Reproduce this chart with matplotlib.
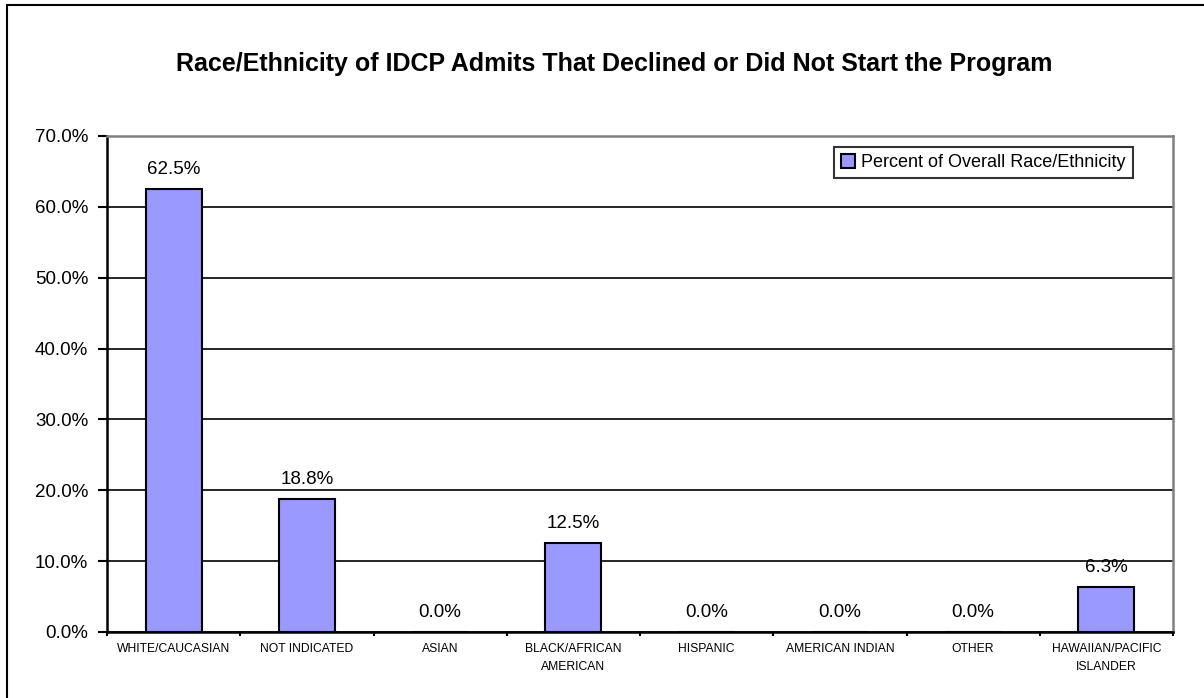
import matplotlib.pyplot as plt
from matplotlib.patches import Rectangle
from matplotlib.ticker import FuncFormatter, MultipleLocator

plt.rcParams['font.family'] = ['Liberation Sans', 'DejaVu Sans']

categories = ['WHITE/CAUCASIAN', 'NOT INDICATED', 'ASIAN', 'BLACK/AFRICAN\nAMERICAN',
              'HISPANIC', 'AMERICAN INDIAN', 'OTHER', 'HAWAIIAN/PACIFIC\nISLANDER']
percents = [62.5, 18.8, 0.0, 12.5, 0.0, 0.0, 0.0, 6.3]
series_name = 'Percent of Overall Race/Ethnicity'
title = 'Race/Ethnicity of IDCP Admits That Declined or Did Not Start the Program'

bar_color = '#9999FF'

W, H = 1204, 698
fig = plt.figure(figsize=(W / 100, H / 100), dpi=100)
ax = fig.add_axes([107 / W, 1 - 632 / H, (1173 - 107) / W, (632 - 136) / H])

# outer chart border (only left and top edges fall inside the image)
fig.patches.append(Rectangle((7 / W, -0.05), 1.1, 1.05 - 5.5 / H,
                             transform=fig.transFigure, fill=False,
                             edgecolor='black', linewidth=1.5))

x = list(range(len(categories)))
ax.bar(x, percents, width=0.42, color=bar_color, edgecolor='black', linewidth=1.5,
       label=series_name, zorder=3)

for xi, v in zip(x, percents):
    ax.annotate(f'{v:.1f}%', (xi, v), xytext=(0, 8), textcoords='offset points',
                ha='center', va='bottom', fontsize=13.5)

ax.set_xlim(-0.5, len(categories) - 0.5)
ax.set_ylim(0, 70)
ax.yaxis.set_major_locator(MultipleLocator(10))
ax.yaxis.set_major_formatter(FuncFormatter(lambda v, p: f'{v:.1f}%'))
ax.grid(axis='y', color='black', linewidth=1.2, zorder=0)

ax.set_xticks(x)
ax.set_xticklabels(categories, fontsize=8.75, linespacing=1.65)
ax.set_xticks([i + 0.5 for i in range(-1, len(categories))], minor=True)
ax.tick_params(axis='x', which='major', length=0, pad=8)
ax.tick_params(axis='x', which='minor', length=3, direction='out', width=1.5)
ax.tick_params(axis='y', length=6.5, width=1.5, direction='out', labelsize=13.5, pad=7)

for side in ['left', 'bottom']:
    ax.spines[side].set_linewidth(1.8)
for side in ['top', 'right']:
    ax.spines[side].set_color('#808080')
    ax.spines[side].set_linewidth(1.8)

leg = ax.legend(loc='upper right', bbox_to_anchor=((1133 - 107) / 1066, 1 - 11 / 496), fontsize=13,
                frameon=True, fancybox=False, edgecolor='black', borderpad=0.4,
                handlelength=0.75, handleheight=0.75, handletextpad=0.35, borderaxespad=0)
leg.get_frame().set_linewidth(1.5)

fig.text(614 / W, 1 - 64 / H, title, ha='center', va='center', fontsize=18, fontweight='bold')

fig.savefig('out.png', dpi=100)
